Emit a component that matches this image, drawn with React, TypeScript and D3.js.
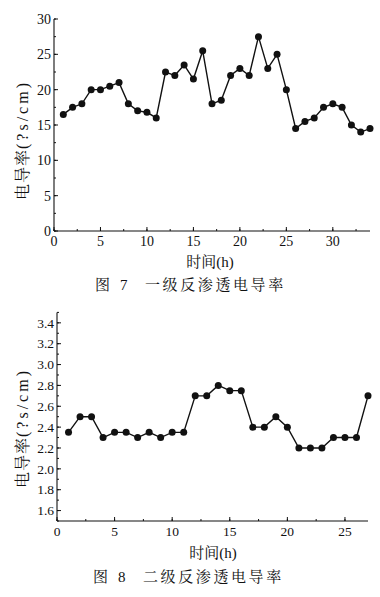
import React from 'react';
import * as d3 from 'd3';

// ---- Figure 7 data (一级反渗透电导率) ----
const hours7: number[] = [1,2,3,4,5,6,7,8,9,10,11,12,13,14,15,16,17,18,19,20,21,22,23,24,25,26,27,28,29,30,31,32,33,34];
const cond7: number[] = [16.5,17.5,18,20,20,20.5,21,18,17,16.8,16,22.5,22,23.5,21.5,25.5,18,18.5,22,23,22,27.5,23,25,20,14.5,15.5,16,17.5,18,17.5,15,14,14.5];
const yTicks7: number[] = [0,5,10,15,20,25,30];
const xTicks7: number[] = [0,5,10,15,20,25,30];

// ---- Figure 8 data (二级反渗透电导率) ----
const hours8: number[] = [1,2,3,4,5,6,7,8,9,10,11,12,13,14,15,16,17,18,19,20,21,22,23,24,25,26,27];
const cond8: number[] = [2.35,2.5,2.5,2.3,2.35,2.35,2.3,2.35,2.3,2.35,2.35,2.7,2.7,2.8,2.75,2.75,2.4,2.4,2.5,2.4,2.2,2.2,2.2,2.3,2.3,2.3,2.7];
const yTicks8: number[] = [1.6,1.8,2.0,2.2,2.4,2.6,2.8,3.0,3.2,3.4];
const xTicks8: number[] = [0,5,10,15,20,25];

const SERIF = "'Liberation Serif', 'DejaVu Serif', serif";
const CJK = "'Noto Serif CJK SC', 'Noto Sans CJK SC', sans-serif";

type ChartProps = {
  xs: number[]; ys: number[];
  xDomain: [number, number]; yDomain: [number, number];
  xRange: [number, number]; yRange: [number, number];
  xTicks: number[]; yTicks: number[];
  xMinorStep: number; yMinorStep: number;
  yFormat: (v: number) => string;
  tickFont: number;
  yLabelX: number; yLabelY: number;
  xLabelY: number; xLabelX: number;
  capY: number; capNum: string; capText: string; capX: number;
};

function Chart(p: ChartProps) {
  const x = d3.scaleLinear().domain(p.xDomain).range(p.xRange);
  const y = d3.scaleLinear().domain(p.yDomain).range(p.yRange);
  const pts = p.xs.map((v, i) => [v, p.ys[i]] as [number, number]);
  const line = d3.line<[number, number]>().x(d => x(d[0])).y(d => y(d[1]));
  const x0 = p.xRange[0];
  const y0 = p.yRange[0];
  const xMinor = d3.range(p.xDomain[0], p.xDomain[1] + 1e-9, p.xMinorStep);
  const yMinor = d3.range(p.yDomain[0], p.yDomain[1] + 1e-9, p.yMinorStep);
  const stroke = '#111';
  return (
    <g>
      <line x1={x0} x2={x0} y1={y0} y2={p.yRange[1]} stroke={stroke} strokeWidth={1.1} />
      <line x1={x0} x2={p.xRange[1]} y1={y0} y2={y0} stroke={stroke} strokeWidth={1.1} />
      {yMinor.map((v, i) => (
        <line key={'ym' + i} x1={x0} x2={x0 + 2} y1={y(v)} y2={y(v)} stroke={stroke} strokeWidth={1} />
      ))}
      {xMinor.map((v, i) => (
        <line key={'xm' + i} x1={x(v)} x2={x(v)} y1={y0} y2={y0 - 2} stroke={stroke} strokeWidth={1} />
      ))}
      {p.yTicks.map((v, i) => (
        <g key={'y' + i}>
          <line x1={x0} x2={x0 + 4} y1={y(v)} y2={y(v)} stroke={stroke} strokeWidth={1} />
          <text x={x0 - 3} y={y(v)} dy="0.35em" textAnchor="end" fontFamily={SERIF} fontSize={p.tickFont} fill="#111">{p.yFormat(v)}</text>
        </g>
      ))}
      {p.xTicks.map((v, i) => (
        <g key={'x' + i}>
          <line x1={x(v)} x2={x(v)} y1={y0} y2={y0 - 4} stroke={stroke} strokeWidth={1} />
          <text x={x(v)} y={y0 + 15} textAnchor="middle" fontFamily={SERIF} fontSize={p.tickFont} fill="#111">{v}</text>
        </g>
      ))}
      <path d={line(pts) || ''} fill="none" stroke={stroke} strokeWidth={1.4} />
      {pts.map((d, i) => (
        <circle key={'c' + i} cx={x(d[0])} cy={y(d[1])} r={3.5} fill={stroke} />
      ))}
      <text transform={`translate(${p.yLabelX},${p.yLabelY}) rotate(-90)`} textAnchor="middle" dy="0.35em" fill="#111" fontSize={16}>
        <tspan fontFamily={CJK} letterSpacing={1}>电导率</tspan>
        <tspan fontFamily={SERIF} letterSpacing={3}>(?s/cm)</tspan>
      </text>
      <text x={p.xLabelX} y={p.xLabelY} dy="0.35em" textAnchor="middle" fill="#111" fontSize={15}>
        <tspan fontFamily={CJK}>时间</tspan>
        <tspan fontFamily={SERIF}>(h)</tspan>
      </text>
      <text x={p.capX} y={p.capY} dy="0.35em" fill="#111" fontSize={15} fontFamily={CJK}>图</text>
      <text x={p.capX + 25} y={p.capY} dy="0.35em" fill="#111" fontSize={15} fontFamily={SERIF}>{p.capNum}</text>
      <text x={p.capX + 50} y={p.capY} dy="0.35em" fill="#111" fontSize={15} fontFamily={CJK} letterSpacing={2.6}>{p.capText}</text>
    </g>
  );
}

export default function App() {
  return (
    <svg width={380} height={597} style={{ position: 'absolute', left: 0, top: 0, background: '#fff' }}>
      <rect width={380} height={597} fill="#fff" />
      <Chart
        xs={hours7} ys={cond7}
        xDomain={[0, 34]} yDomain={[0, 30]}
        xRange={[54, 370]} yRange={[231, 19]}
        xTicks={xTicks7} yTicks={yTicks7}
        xMinorStep={2.5} yMinorStep={2.5}
        yFormat={(v) => String(v)}
        tickFont={14}
        yLabelX={22} yLabelY={140}
        xLabelX={210} xLabelY={262}
        capX={95} capY={285} capNum="7" capText="一级反渗透电导率"
      />
      <Chart
        xs={hours8} ys={cond8}
        xDomain={[0, 27]} yDomain={[1.5, 3.5]}
        xRange={[57, 368]} yRange={[521, 312.4]}
        xTicks={xTicks8} yTicks={yTicks8}
        xMinorStep={2.5} yMinorStep={0.1}
        yFormat={(v) => d3.format('.1f')(v)}
        tickFont={13.5}
        yLabelX={22} yLabelY={428}
        xLabelX={213} xLabelY={553}
        capX={93} capY={577} capNum="8" capText="二级反渗透电导率"
      />
    </svg>
  );
}
